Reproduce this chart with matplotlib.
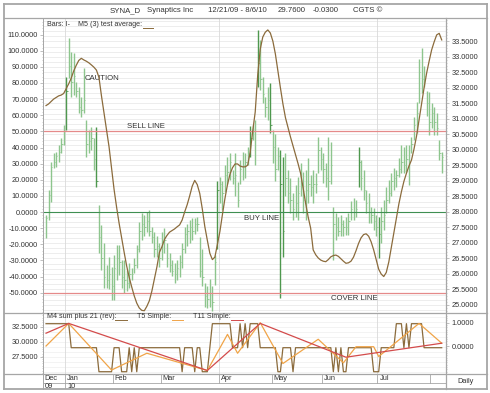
import matplotlib
matplotlib.use("Agg")
import matplotlib.pyplot as plt
import numpy as np
from matplotlib.lines import Line2D
from matplotlib.ticker import MultipleLocator, FixedLocator, FuncFormatter

plt.rcParams["font.family"] = ["Liberation Sans", "DejaVu Sans"]

# ---- data (trading days 12/21/09 .. 8/6/10) ----
highs = [
    27.90, 28.71, 29.61, 29.90, 29.94, 30.16, 30.39, 30.81,
    32.35, 33.61, 33.16, 33.12, 32.20, 32.04, 31.72, 32.65, 30.97, 30.65, 30.75, 30.40,
    30.74, 28.23, 27.58, 26.99, 26.30, 26.56, 26.24,
    26.62, 26.94, 26.94, 26.46, 26.46, 26.13, 26.35, 26.19, 26.51, 26.94, 27.69, 27.96,
    27.91, 28.01, 28.07, 27.53, 27.37, 27.21, 26.99,
    27.37, 27.48, 26.99, 26.67, 26.46, 26.35, 26.45, 26.60, 27.00, 27.53, 27.60, 27.75,
    27.80, 27.80, 27.85, 27.20, 26.80, 25.70, 25.60, 25.85, 25.60, 26.60, 29.00,
    29.14, 29.00, 29.52, 29.78, 29.90, 29.35, 29.90, 28.98, 29.68, 29.95, 29.90, 30.11,
    30.76, 30.81, 30.97, 33.87, 33.55, 32.36, 31.72, 32.04, 32.15,
    30.65, 30.50, 30.10, 30.00, 29.79, 29.90, 29.35, 29.09, 28.60, 28.87, 29.14, 29.57,
    29.30, 29.35, 29.73, 29.20, 29.35, 29.25, 30.43, 30.11,
    29.90, 29.57, 30.43, 30.25, 28.17, 27.96, 27.85, 27.90, 27.74, 27.85, 27.96, 28.34,
    28.44, 28.39, 30.11, 29.68, 29.35, 28.71, 28.60, 28.17, 28.12, 27.90,
    27.85, 28.17, 28.39, 28.82, 29.04, 29.25, 29.41, 29.36, 29.73, 30.16, 30.10, 30.16,
    30.16, 30.43, 31.07, 31.56, 32.95, 33.28, 32.70, 31.90, 31.88,
    31.50, 31.40, 31.18, 30.32, 29.94,
]
lows = [
    27.16, 27.74, 28.32, 29.42, 29.45, 29.61, 29.90, 30.16,
    30.65, 32.32, 31.72, 31.77, 31.72, 31.18, 31.07, 31.20, 29.78, 29.90, 30.00, 29.35,
    28.82, 26.67, 26.13, 25.54, 25.54, 25.50, 25.17,
    25.17, 25.81, 25.97, 25.54, 25.38, 25.45, 25.54, 25.81, 26.03, 26.19, 26.72, 27.10,
    27.21, 27.37, 27.21, 26.99, 26.56, 26.56, 26.24,
    26.46, 26.67, 26.24, 26.08, 25.92, 25.70, 25.80, 25.90, 26.20, 26.67, 26.90, 27.00,
    27.10, 27.30, 27.40, 25.90, 25.60, 24.95, 24.90, 24.95, 24.80, 25.65, 26.80,
    28.28, 28.07, 28.66, 28.90, 29.04, 28.90, 28.50, 28.17, 28.90, 29.04, 29.10, 29.50,
    29.79, 30.33, 29.52, 32.04, 31.93, 31.50, 31.07, 30.97, 30.54,
    29.57, 29.00, 29.35, 25.22, 26.56, 28.50, 28.28, 27.96, 27.74, 27.85, 27.74, 28.50,
    27.96, 27.74, 28.28, 28.50, 28.28, 28.60, 29.25, 29.35,
    28.93, 28.82, 28.39, 28.90, 26.46, 27.10, 27.21, 27.21, 27.21, 27.26, 27.26, 27.74,
    27.74, 27.85, 28.82, 28.71, 28.39, 27.96, 27.64, 27.64, 27.42, 27.21,
    26.51, 27.00, 27.42, 27.96, 28.28, 28.50, 28.71, 28.82, 29.14, 29.25, 29.25, 29.30,
    28.87, 29.90, 30.32, 30.54, 31.50, 31.83, 32.04, 31.10, 30.48,
    30.70, 30.48, 30.48, 29.68, 29.25,
]
closes = [
    27.80, 28.55, 29.45, 29.60, 29.80, 29.95, 30.20, 30.60,
    31.90, 32.70, 32.20, 32.40, 31.90, 31.40, 31.30, 31.60, 30.20, 30.30, 30.40, 29.70,
    29.00, 27.20, 26.50, 25.90, 25.80, 26.00, 25.60,
    26.20, 26.50, 26.40, 25.90, 25.80, 25.70, 26.00, 26.00, 26.30, 26.80, 27.40, 27.60,
    27.50, 27.70, 27.40, 27.20, 26.80, 26.90, 26.50,
    27.00, 27.10, 26.50, 26.30, 26.10, 26.00, 26.20, 26.40, 26.80, 27.30, 27.40, 27.50,
    27.40, 27.60, 27.60, 26.10, 25.90, 25.30, 25.20, 25.40, 25.10, 26.40, 28.70,
    28.90, 28.60, 29.20, 29.30, 29.60, 29.10, 29.20, 28.40, 29.40, 29.50, 29.60, 29.90,
    30.40, 30.60, 30.60, 32.80, 32.30, 31.80, 31.40, 31.60, 30.80,
    30.10, 29.40, 29.80, 28.90, 27.40, 29.10, 28.60, 28.40, 28.10, 28.30, 28.60, 28.90,
    28.40, 28.70, 28.90, 28.80, 28.90, 28.90, 30.00, 29.70,
    29.40, 29.10, 29.00, 29.50, 27.60, 27.50, 27.40, 27.60, 27.50, 27.50, 27.70, 28.10,
    28.00, 28.10, 29.60, 29.10, 28.70, 28.30, 28.00, 27.90, 27.70, 27.50,
    27.30, 27.70, 27.90, 28.40, 28.60, 29.00, 29.10, 29.20, 29.40, 29.60, 29.50, 29.70,
    29.60, 30.20, 30.80, 31.20, 32.50, 32.30, 32.40, 31.50, 30.90,
    31.20, 30.90, 30.70, 29.90, 29.76,
]
dark_bars = [8, 20, 68, 81, 84, 89, 93, 94, 124, 132]

# M5 (3) test average, left scale
m5_avg = [
    66.0, 67.0, 68.5, 70.0, 71.0, 72.0, 72.5, 73.5,
    76.5, 79.5, 83.0, 87.5, 91.0, 94.0, 95.3, 94.3, 93.5, 92.5, 91.2, 89.8,
    88.0, 83.5, 72.0, 61.5, 51.0, 40.5, 27.0,
    14.0, 3.0, -7.0, -16.0, -25.0, -33.5, -40.5, -46.5, -52.0, -56.5, -59.5, -61.0,
    -61.2, -58.5, -55.0, -49.0, -41.5, -34.0, -25.0,
    -21.5, -17.0, -14.5, -12.5, -11.5, -10.5, -9.2, -8.0, -5.0, 0.0, 4.5, 10.0,
    16.0, 19.6, 17.0, 11.5, 2.0, -9.0, -17.5, -25.6, -29.5, -28.0, -20.0,
    -12.0, -1.5, 8.5, 17.0, 23.5, 27.5, 29.8, 29.8, 28.5, 28.0, 28.0, 29.0,
    37.0, 50.0, 62.0, 85.0, 101.0, 108.5, 111.5, 112.9, 111.0,
    106.0, 98.0, 87.5, 77.0, 67.0, 58.5, 52.5, 46.5, 41.0, 35.5, 30.0, 24.0,
    15.0, 5.5, -3.0, -10.0, -23.5, -26.5, -28.5, -29.8,
    -30.5, -30.8, -29.5, -27.8, -27.0, -26.7, -27.5, -29.0, -30.5, -31.8, -31.5, -30.5,
    -28.0, -24.0, -19.5, -16.0, -14.0, -13.5, -15.0, -18.5, -23.5, -29.5,
    -35.5, -38.5, -40.0, -37.5, -31.0, -22.0, -13.0, -4.0, 5.0, 12.5, 19.0, 24.0,
    28.5, 32.2, 39.0, 47.0, 57.0, 67.4, 77.0, 86.0, 93.5,
    100.5, 105.5, 109.8, 110.8, 106.7,
]

# M4 sum plus 21 (rev), lower panel left scale
m4_sum = [
    33, 33, 33, 33, 33, 33, 33, 33,
    33, 33, 29, 29, 29, 29, 29, 29, 29, 29, 29, 29,
    29, 25, 25, 25, 25, 25, 25,
    29, 29, 29, 25, 25, 25, 29, 25, 29, 25, 29, 29,
    29, 29, 29, 29, 29, 29, 29,
    29, 29, 29, 29, 29, 29, 29, 29, 25, 29, 29, 29,
    29, 25, 29, 29, 25, 25, 25, 29, 33, 33, 33,
    33, 33, 33, 33, 33, 29, 29, 29, 33, 29, 33, 29,
    33, 33, 33, 33, 29, 29, 29, 29, 29,
    29, 29, 25, 25, 29, 29, 29, 29, 25, 29, 29, 29,
    29, 29, 29, 29, 29, 29, 29, 29,
    29, 29, 29, 29, 25, 29, 25, 29, 25, 25, 29, 29,
    29, 29, 29, 29, 29, 29, 29, 29, 25, 25,
    25, 29, 29, 29, 29, 29, 29, 33, 33, 33, 29, 33,
    29, 33, 33, 33, 33, 33, 29, 29, 29,
    29, 29, 29, 29, 29,
]

# T5 / T11 simple: pivot days and values (lower panel right scale)
t5_days = [0, 9, 26, 40, 64, 72, 76, 85, 94, 108, 118, 123, 130, 132, 148, 157]
t5_vals = [0.0, 0.97, -1.03, -0.31, -1.05, 0.5, -0.31, 1.0, -0.75, 0.29, -0.72, -0.03, -0.03, -0.45, 0.97, 0.12]
t11_days = [0, 9, 64, 85, 119, 157]
t11_vals = [0.55, 0.97, -1.05, 0.97, -0.48, 0.12]

sell_level, buy_level, cover_level = 50, 0, -50
month_names = ["Jan", "Feb", "Mar", "Apr", "May", "Jun", "Jul", ""]
month_starts = [8, 27, 46, 69, 90, 110, 132, 153]
quarter_starts = [8, 69, 132]

# ---- layout helpers (pixel -> figure fraction) ----
W, H = 490, 393
def fx(px):
    return px / W
def fy(py):
    return 1 - py / H

FRAME = "#a6a6a6"
GRID = "#e6e6e6"
VGRID = "#d9d9d9"
TXT = "#333333"
LIGHT_BAR = "#8dc58d"
DARK_BAR = "#4e984e"
BROWN = "#8b6b3c"
FS = 5.3

fig = plt.figure(figsize=(W / 100, H / 100), dpi=100)
fig.patch.set_facecolor("white")

XL = (-1.2, 158.7)
days = np.arange(len(highs))
fmt4 = FuncFormatter(lambda v, p: f"{v:.4f}")


def style_yaxis(a, pad):
    a.tick_params(axis="y", which="major", labelsize=FS, colors=FRAME, labelcolor=TXT,
                  length=2, width=0.5, pad=pad)
    a.tick_params(axis="y", which="minor", length=1, width=0.4, colors=FRAME)
    for s in a.spines.values():
        s.set_visible(False)


# ---- main panel: price axis (right) + oscillator axis (left) ----
ax = fig.add_axes([fx(43), fy(312), fx(446) - fx(43), fy(18) - fy(312)])
axo = ax.twinx()
ax.yaxis.tick_right()
axo.yaxis.tick_left()

ax.set_xlim(*XL)
ax.set_ylim(24.774, 34.258)
for g in np.arange(24.5, 34.3, 1 / 6):
    ax.axhline(g, color=GRID, lw=0.5, zorder=0)
for q in quarter_starts:
    ax.axvline(q - 0.5, color=VGRID, lw=0.6, zorder=0)

bar_colors = [DARK_BAR if i in dark_bars else LIGHT_BAR for i in days]
ax.vlines(days, lows, highs, colors=bar_colors, lw=1.0, zorder=2)
ax.hlines(closes, days, days + 0.55, colors=bar_colors, lw=0.6, zorder=2)

ax.yaxis.set_major_locator(FixedLocator(np.arange(25.0, 33.6, 0.5)))
ax.yaxis.set_minor_locator(MultipleLocator(0.1))
ax.yaxis.set_major_formatter(fmt4)
ax.set_xticks([])
style_yaxis(ax, 2)

axo.set_ylim(-62.0, 120.3)
axo.yaxis.set_major_locator(FixedLocator(np.arange(-50, 111, 10)))
axo.yaxis.set_minor_locator(MultipleLocator(2))
axo.yaxis.set_major_formatter(fmt4)
style_yaxis(axo, 1.5)
axo.axhline(sell_level, color="#e58a8a", lw=0.9, zorder=3)
axo.axhline(cover_level, color="#e58a8a", lw=0.9, zorder=3)
axo.axhline(buy_level, color="#3f8f52", lw=0.8, zorder=3)
axo.plot(days, m5_avg, color=BROWN, lw=0.9, zorder=4)
axo.text(15.4, 83, "CAUTION", fontsize=FS + 0.3, color=TXT, va="center", ha="left")
axo.text(32.1, 53.3, "SELL LINE", fontsize=FS + 0.3, color=TXT, va="center", ha="left")
axo.text(78.5, -4.3, "BUY LINE", fontsize=FS + 0.3, color=TXT, va="center", ha="left")
axo.text(113.0, -53.6, "COVER LINE", fontsize=FS + 0.3, color=TXT, va="center", ha="left")

# ---- lower panel ----
lo = fig.add_axes([fx(43), fy(374), fx(446) - fx(43), fy(313) - fy(374)])
lor = lo.twinx()
lo.set_xlim(*XL)
lo.set_ylim(24.62, 34.78)
for g in np.arange(24.9, 34.8, 0.8333):
    lo.axhline(g, color="#efefef", lw=0.5, zorder=0)
for q in quarter_starts:
    lo.axvline(q - 0.5, color=VGRID, lw=0.6, zorder=0)
lo.plot(days, m4_sum, color=BROWN, lw=0.9, zorder=2)
lo.set_xticks([])
lo.yaxis.set_major_locator(FixedLocator([27.5, 30.0, 32.5]))
lo.yaxis.set_minor_locator(MultipleLocator(0.4))
lo.yaxis.set_major_formatter(fmt4)
style_yaxis(lo, 1.5)

lor.set_ylim(-1.2, 1.416)
lor.plot(t5_days, t5_vals, color="#f0a448", lw=0.9, zorder=3)
lor.plot(t11_days, t11_vals, color="#d34b4b", lw=0.9, zorder=4)
lor.yaxis.set_major_locator(FixedLocator([0.0, 1.0]))
lor.yaxis.set_minor_locator(MultipleLocator(0.1))
lor.yaxis.set_major_formatter(fmt4)
style_yaxis(lor, 2)

# ---- date band ----
band = fig.add_axes([fx(43), fy(389), fx(446) - fx(43), fy(374) - fy(389)])
band.set_xlim(*XL)
band.set_ylim(0, 1)
band.axis("off")
band.axhline(0.42, color=FRAME, lw=0.6)
band.text(-0.7, 0.71, "Dec", fontsize=FS, color=TXT, va="center", ha="left")
band.text(-0.7, 0.2, "09", fontsize=FS, color=TXT, va="center", ha="left")
for name, m in zip(month_names, month_starts):
    band.plot([m - 0.5, m - 0.5], [0.42, 1.0], color=FRAME, lw=0.6)
    band.text(m + 0.3, 0.71, name, fontsize=FS, color=TXT, va="center", ha="left")
band.plot([quarter_starts[0] - 0.5] * 2, [0.0, 0.42], color=FRAME, lw=0.6)
band.text(quarter_starts[0] + 0.3, 0.2, "10", fontsize=FS, color=TXT, va="center", ha="left")


# ---- frame & separators ----
def fline(x0, y0, x1, y1, lw=0.9, color=FRAME):
    fig.add_artist(Line2D([fx(x0), fx(x1)], [fy(y0), fy(y1)], color=color, lw=lw))


fline(3.5, 3.5, 486.5, 3.5, lw=1.3)
fline(3.5, 389, 486.5, 389, lw=1.3)
fline(3.5, 3.5, 3.5, 389, lw=1.3)
fline(486.5, 3.5, 486.5, 389, lw=1.3)
fline(3.5, 17.5, 486.5, 17.5)
fline(3.5, 312.5, 486.5, 312.5)
fline(3.5, 374, 486.5, 374)
fline(43, 17.5, 43, 389, lw=0.7)
fline(446, 17.5, 446, 389, lw=0.9)

# ---- title ----
ty = fy(11)
for x, s in [(110, "SYNA_D"), (147, "Synaptics Inc"), (208, "12/21/09 - 8/6/10"),
             (278, "29.7600"), (313, "-0.0300"), (353, "CGTS \u00a9")]:
    fig.text(fx(x), ty, s, fontsize=FS + 0.3, color=TXT, va="center", ha="left")

# ---- legends ----
fig.text(fx(47), fy(25), "Bars: I-", fontsize=FS - 0.2, color=TXT, va="center", ha="left")
fig.text(fx(78), fy(25), "M5 (3) test average:", fontsize=FS - 0.2, color=TXT, va="center", ha="left")
fline(143, 28, 153, 28, lw=0.7, color=BROWN)

fig.text(fx(47), fy(316.5), "M4 sum plus 21 (rev):", fontsize=FS - 0.2, color=TXT, va="center", ha="left")
fline(115, 319.5, 127, 319.5, lw=0.7, color=BROWN)
fig.text(fx(137), fy(316.5), "T5 Simple:", fontsize=FS - 0.2, color=TXT, va="center", ha="left")
fline(172, 319.5, 183, 319.5, lw=0.7, color="#f0a448")
fig.text(fx(193), fy(316.5), "T11 Simple:", fontsize=FS - 0.2, color=TXT, va="center", ha="left")
fline(231, 319.5, 243, 319.5, lw=0.7, color="#d34b4b")

fig.text(fx(466), fy(381.5), "Daily", fontsize=FS, color=TXT, va="center", ha="center")

fig.savefig("out.png", dpi=100, facecolor="white")
